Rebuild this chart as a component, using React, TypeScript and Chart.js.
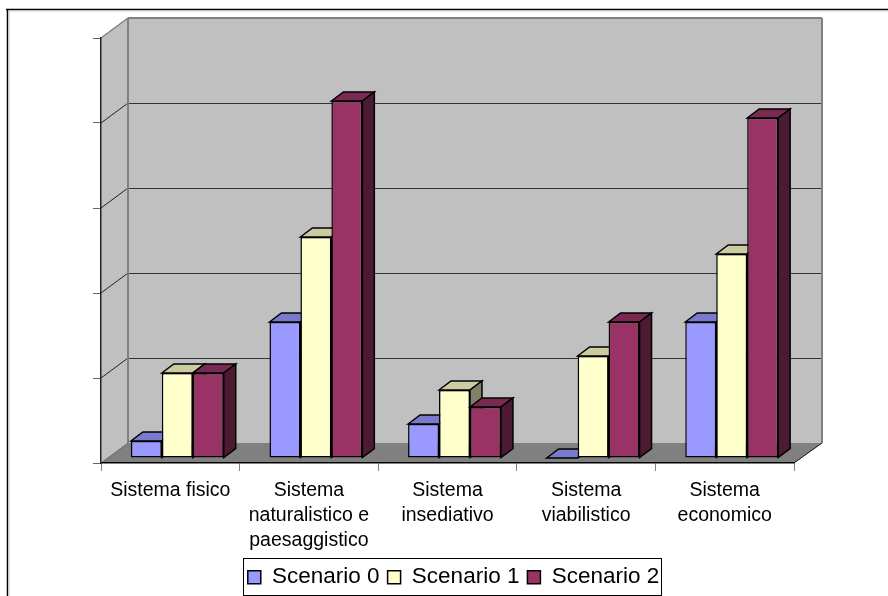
import React, { useEffect, useRef } from "react";
import { Chart, registerables } from "chart.js";

Chart.register(...registerables);

const categories = [
  "Sistema fisico",
  ["Sistema", "naturalistico e", "paesaggistico"],
  ["Sistema", "insediativo"],
  ["Sistema", "viabilistico"],
  ["Sistema", "economico"],
];
const scenario0 = [0.2, 1.6, 0.4, 0, 1.6];
const scenario1 = [1, 2.6, 0.8, 1.2, 2.4];
const scenario2 = [1, 4.2, 0.6, 1.6, 4];

const FRONT = ["#9999FF", "#FFFFCC", "#993366"];
const TOP = ["#7A7ACC", "#CCCCA3", "#7A2952"];
const SIDE = ["#4D4D80", "#808066", "#4D1A33"];

const W = 888;
const H = 596;
const WALL_DX = 27;
const WALL_DY = 20;
const BAR_SHIFT_X = 7;
const BAR_SHIFT_Y = 5;
const BAR_DX = 12;
const BAR_DY = 9;
const AXIS_BOTTOM = 463;

function poly(ctx: CanvasRenderingContext2D, pts: number[][], fill: string | null, stroke: string | null, lw = 1) {
  ctx.beginPath();
  pts.forEach((p, i) => (i ? ctx.lineTo(p[0], p[1]) : ctx.moveTo(p[0], p[1])));
  ctx.closePath();
  if (fill) {
    ctx.fillStyle = fill;
    ctx.fill();
  }
  if (stroke) {
    ctx.strokeStyle = stroke;
    ctx.lineWidth = lw;
    ctx.stroke();
  }
}

function line(ctx: CanvasRenderingContext2D, x1: number, y1: number, x2: number, y2: number, c: string, lw = 1) {
  ctx.beginPath();
  ctx.moveTo(x1, y1);
  ctx.lineTo(x2, y2);
  ctx.strokeStyle = c;
  ctx.lineWidth = lw;
  ctx.stroke();
}

const scene3d = {
  id: "scene3d",
  afterLayout(chart: any) {
    const lg = chart.legend;
    lg.left += 10;
    lg.right += 10;
    lg.top = 558;
    lg.bottom = 595;
  },
  beforeDraw(chart: any) {
    const { ctx, chartArea: a, scales } = chart;
    ctx.save();
    ctx.fillStyle = "#fff";
    ctx.fillRect(0, 0, W, H);
    // outer frame: top and left edges only
    line(ctx, 6, 9.5, W, 9.5, "#000", 1.5);
    line(ctx, 7.5, 9, 7.5, H, "#000", 1.5);
    line(ctx, 8, 11, W, 11, "#ccc", 1);
    line(ctx, 9, 11, 9, H, "#ccc", 1);
    const l = a.left, r = a.right, t = a.top, b = a.bottom;
    const bl = l + WALL_DX, br = r + WALL_DX + 1, bt = t - WALL_DY, bb = b - WALL_DY;
    poly(ctx, [[bl, bt], [br, bt], [br, bb], [bl, bb]], "#C0C0C0", null);
    poly(ctx, [[l, t], [bl, bt], [bl, bb], [l, b]], "#C0C0C0", null);
    poly(ctx, [[l, b], [bl, bb], [br, bb], [r, b]], "#808080", null);
    for (const tk of scales.y.ticks) {
      const y = scales.y.getPixelForValue(tk.value);
      if (tk.value > 0 && tk.value < 5) {
        line(ctx, bl, y - WALL_DY + 0.5, br, y - WALL_DY + 0.5, "#333", 1);
        line(ctx, l, y, bl, y - WALL_DY, "#222", 1);
      }
    }
    line(ctx, bl, bt, br, bt, "#808080", 2);
    line(ctx, l, t, bl, bt, "#808080", 1.5);
    line(ctx, bl, bt, bl, bb, "#808080", 2);
    line(ctx, br, bt, br, bb, "#808080", 2);
    line(ctx, r, b, br, bb, "#111", 1);
    line(ctx, l, b, bl, bb, "#666", 1);
    // legend box
    ctx.fillStyle = "#fff";
    ctx.fillRect(243.5, 558.5, 418, 37);
    ctx.strokeStyle = "#000";
    ctx.lineWidth = 1;
    ctx.strokeRect(243.5, 558.5, 418, 37);
    ctx.restore();
  },
  beforeDatasetsDraw(chart: any) {
    const ctx = chart.ctx;
    ctx.save();
    ctx.translate(BAR_SHIFT_X, -BAR_SHIFT_Y);
    // painter's order: left-most series first, so later series overlap its depth faces
    chart.data.datasets.forEach((_: any, i: number) => {
      const meta = chart.getDatasetMeta(i);
      for (const el of meta.data) {
        const p = el.getProps(["x", "y", "base", "width"], true);
        const left = p.x - p.width / 2, right = p.x + p.width / 2;
        poly(ctx, [[left, p.y], [left + BAR_DX, p.y - BAR_DY], [right + BAR_DX, p.y - BAR_DY], [right, p.y]], TOP[i], "#000", 1.5);
        poly(ctx, [[right, p.y], [right + BAR_DX, p.y - BAR_DY], [right + BAR_DX, p.base - BAR_DY], [right, p.base]], SIDE[i], "#000", 1.5);
      }
      meta.controller.draw();
    });
    ctx.restore();
  },
  beforeDatasetDraw() {
    return false;
  },
};

const FONT = "'Liberation Sans', Arial, sans-serif";

export default function App() {
  const ref = useRef<HTMLCanvasElement>(null);
  useEffect(() => {
    const chart = new Chart(ref.current as HTMLCanvasElement, {
      type: "bar",
      data: {
        labels: categories as any,
        datasets: [
          { label: "Scenario 0", data: scenario0, backgroundColor: FRONT[0] },
          { label: "Scenario 1", data: scenario1, backgroundColor: FRONT[1] },
          { label: "Scenario 2", data: scenario2, backgroundColor: FRONT[2] },
        ].map((d) => ({ ...d, borderColor: "#000", borderWidth: 1.5, borderSkipped: false })),
      },
      options: {
        responsive: false,
        animation: false,
        events: [],
        layout: { padding: { left: 93, right: 94, top: 38, bottom: 0 } },
        datasets: { bar: { categoryPercentage: 0.67, barPercentage: 1 } },
        scales: {
          x: {
            afterFit(scale: any) {
              scale.height = H - AXIS_BOTTOM - scale.chart.legend.height;
            },
            grid: { drawOnChartArea: false, drawTicks: true, tickLength: 8, color: "#808080", lineWidth: 1 },
            border: { color: "#000", width: 1.5 },
            ticks: {
              maxRotation: 0,
              autoSkip: false,
              color: "#000",
              padding: 7,
              font: { family: FONT, size: 19.5, lineHeight: 1.28 },
            },
          },
          y: {
            min: 0,
            max: 5,
            grid: { drawOnChartArea: false, drawTicks: true, tickLength: 8, color: "#666", lineWidth: 1 },
            border: { color: "#222", width: 1.5 },
            ticks: { display: false, stepSize: 1 },
          },
        },
        plugins: {
          tooltip: { enabled: false },
          title: { display: false },
          legend: {
            position: "bottom",
            labels: {
              color: "#000",
              boxWidth: 13,
              boxHeight: 13,
              padding: 8,
              font: { family: FONT, size: 22.5 },
            },
          },
        },
      } as any,
      plugins: [scene3d],
    });
    return () => chart.destroy();
  }, []);
  return (
    <div style={{ position: "fixed", left: 0, top: 0, width: W, height: H, background: "#fff" }}>
      <canvas ref={ref} width={W} height={H} style={{ display: "block" }} />
    </div>
  );
}
